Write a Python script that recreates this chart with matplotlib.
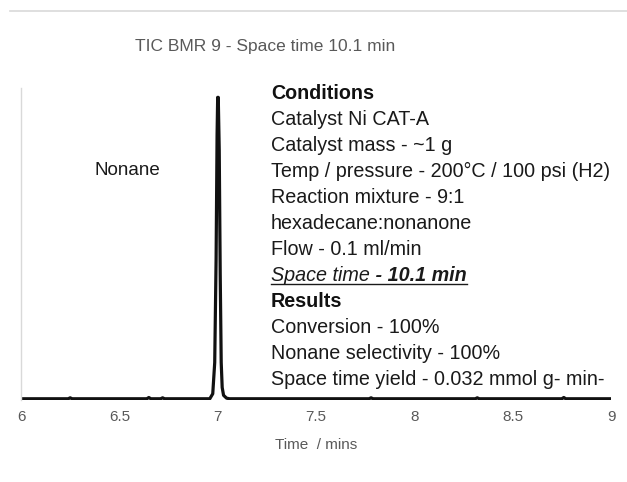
import matplotlib
matplotlib.use("Agg")
import matplotlib.pyplot as plt
from matplotlib.lines import Line2D

plt.rcParams['font.family'] = ['Liberation Sans', 'DejaVu Sans']

# ---- data ----
time_min = [6.0, 6.24, 6.25, 6.26, 6.64, 6.65, 6.66, 6.71, 6.72, 6.73,
            6.96, 6.975, 6.985, 6.992, 6.997, 7.0, 7.003, 7.008, 7.013,
            7.018, 7.023, 7.03, 7.045, 7.06, 7.5, 7.77, 7.78, 7.79,
            8.31, 8.32, 8.33, 8.75, 8.76, 8.77, 9.0]
intensity = [0.004, 0.004, 0.007, 0.004, 0.004, 0.008, 0.004, 0.004, 0.007, 0.004,
             0.004, 0.02, 0.12, 0.45, 0.85, 0.97, 0.97, 0.8, 0.4,
             0.12, 0.04, 0.015, 0.006, 0.004, 0.004, 0.004, 0.007, 0.004,
             0.004, 0.007, 0.004, 0.004, 0.008, 0.004, 0.004]
xticks = [6, 6.5, 7, 7.5, 8, 8.5, 9]
xtick_labels = ["6", "6.5", "7", "7.5", "8", "8.5", "9"]

title = "TIC BMR 9 - Space time 10.1 min"
xlabel = "Time  / mins"
peak_label = "Nonane"
cond_lines = ["Catalyst Ni CAT-A",
              "Catalyst mass - ~1 g",
              "Temp / pressure - 200\u00b0C / 100 psi (H2)",
              "Reaction mixture - 9:1",
              "hexadecane:nonanone",
              "Flow - 0.1 ml/min"]
space_time_a = "Space time"
space_time_b = " - 10.1 min"
result_lines = ["Conversion - 100%",
                "Nonane selectivity - 100%",
                "Space time yield - 0.032 mmol g- min-"]

W, H = 627, 482
fig = plt.figure(figsize=(W / 100, H / 100), dpi=100)
fig.patch.set_facecolor("white")

def fx(px):
    return px / W

def fy(py):
    return 1 - py / H

ax = fig.add_axes([fx(21), fy(400), fx(611) - fx(21), fy(88) - fy(400)])
ax.plot(time_min, intensity, color="#111111", lw=2.3, solid_joinstyle="round")
ax.set_xlim(6, 9)
ax.set_ylim(0, 1.0)
ax.set_yticks([])
ax.set_xticks(xticks)
ax.set_xticklabels(xtick_labels, color="#595959", fontsize=11)
ax.tick_params(axis="x", length=0, pad=7)
for s in ["top", "right", "bottom"]:
    ax.spines[s].set_visible(False)
ax.spines["left"].set_color("#d9d9d9")
ax.spines["left"].set_linewidth(1.0)
ax.patch.set_alpha(0)

# top border line
fig.add_artist(Line2D([fx(10), fx(627)], [fy(11), fy(11)], color="#d9d9d9", lw=1.2))

fig.text(fx(265), fy(46), title, ha="center", va="center", color="#595959", fontsize=12.5)
fig.text(fx(316), fy(445), xlabel, ha="center", va="center", color="#595959", fontsize=11)
fig.text(fx(127), fy(170), peak_label, ha="center", va="center", color="#1a1a1a", fontsize=13.5)

x0 = 271
y_start = 93.5
step = 26.0
fs = 14.2
col = "#1a1a1a"
ys = [y_start + i * step for i in range(12)]

fig.text(fx(x0), fy(ys[0]), "Conditions", ha="left", va="center", fontsize=fs,
         fontweight="bold", color="#111111")
for i, t in enumerate(cond_lines):
    fig.text(fx(x0), fy(ys[1 + i]), t, ha="left", va="center", fontsize=fs, color=col)

ta = fig.text(fx(x0), fy(ys[7]), space_time_a, ha="left", va="center", fontsize=fs,
              fontstyle="italic", color=col)
fig.canvas.draw()
r = fig.canvas.get_renderer()
bb = ta.get_window_extent(r)
tb = fig.text(bb.x1 / W, fy(ys[7]), space_time_b, ha="left", va="center", fontsize=fs,
              fontstyle="italic", fontweight="bold", color=col)
bb2 = tb.get_window_extent(r)
uy = fy(ys[7] + 8)
fig.add_artist(Line2D([fx(x0), bb2.x1 / W], [uy, uy], color=col, lw=1.0))

fig.text(fx(x0), fy(ys[8]), "Results", ha="left", va="center", fontsize=fs,
         fontweight="bold", color="#111111")
for i, t in enumerate(result_lines):
    fig.text(fx(x0), fy(ys[9 + i]), t, ha="left", va="center", fontsize=fs, color=col)

fig.savefig("out.png", dpi=100, facecolor="white")
